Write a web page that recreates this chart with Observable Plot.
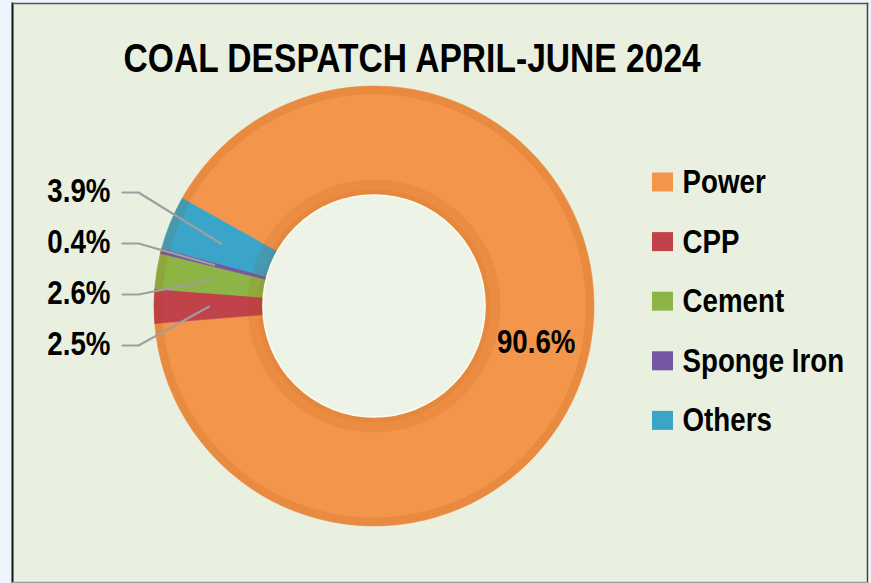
<!DOCTYPE html>
<html><head><meta charset="utf-8">
<script src="https://cdn.jsdelivr.net/npm/d3@7"></script>
<script src="https://cdn.jsdelivr.net/npm/@observablehq/plot@0.6"></script>
<style>
html,body{margin:0;padding:0;background:#edf4fc;}
#chart{width:871px;height:583px;}
</style></head><body><div id="chart"></div>
<script>
// ---- data ----
const title = "COAL DESPATCH APRIL-JUNE 2024";
const categories = ["Power", "CPP", "Cement", "Sponge Iron", "Others"];
const shares = [90.6, 2.5, 2.6, 0.4, 3.9];
const shareLabels = ["90.6%", "2.5%", "2.6%", "0.4%", "3.9%"];
const colors = ["#f3954a", "#c0434b", "#8db546", "#7557a4", "#3aa5c8"];

// ---- layout ----
const W = 871, H = 583, M = {l: 12, r: 4, t: 3, b: 1};
const CX = 374, CY = 306, R = 220;      // donut centre & outer radius (px)
const INNER = 0.505;                     // inner radius as fraction of outer
const START = -60.7 * Math.PI / 180;     // start angle of first slice
const FONT = "'Liberation Sans', Arial, sans-serif";
const NARROW = 0.84;                     // horizontal condensing of the bold text
const ux = px => (px - CX) / R, uy = py => (CY - py) / R, upx = d => d / R;

const data = categories.map((c, i) => ({category: c, value: shares[i], label: shareLabels[i]}));
const arcs = d3.pie().value(d => d.value).sort(null).startAngle(START).endAngle(START + 2 * Math.PI)(data);
const midA = a => (a.startAngle + a.endAngle) / 2;
const CR = (1 + INNER) / 2;
const polar = (ang, r) => [r * Math.sin(ang), r * Math.cos(ang)];

// main label (largest slice) at centroid
const bigLabels = arcs.filter(a => a.data.value > 50).map(a => {
  const [x, y] = polar(midA(a), CR);
  return {x, y, label: a.data.label};
});
// small slices: stacked labels on the left with leader lines
const small = arcs.filter(a => a.data.value <= 50);
const ANCHOR_X = ux(122), ELBOW = upx(16), GAP = upx(12);
const LBASE = upx(-38), LSTEP = upx(51);
const smallLabels = small.map((a, k) => ({x: ANCHOR_X - GAP, y: LBASE + k * LSTEP, label: a.data.label}));
const leaders = small.flatMap((a, k) => {
  const y0 = LBASE + k * LSTEP - upx(1);
  const [cx, cy] = polar(midA(a), CR);
  return [
    {k, x: ANCHOR_X, y: y0},
    {k, x: ANCHOR_X + ELBOW, y: y0},
    {k, x: cx, y: cy}
  ];
});

// legend
const LEG_X1 = ux(652), LEG_X2 = ux(673), LEG_TX = ux(682), LEG_Y0 = uy(182), LEG_STEP = upx(59.6), SW_H = upx(19);
const legend = categories.map((c, i) => ({category: c, y: LEG_Y0 - i * LEG_STEP}));

function donut(index, scales) {
  const {x, y, color} = scales;
  const cx = x(0), cy = y(0), r = x(1) - x(0);
  const g = d3.create("svg:g").attr("transform", `translate(${cx},${cy})`);
  const arc = d3.arc().innerRadius(r * INNER).outerRadius(r);
  g.selectAll("path.s").data(arcs).join("path")
    .attr("d", arc)
    .attr("fill", d => color(d.data.category))
    .attr("stroke", d => color(d.data.category))
    .attr("stroke-width", 0.6);
  // shading rings (3D effect)
  const ring = (r0, r1) => d3.arc().innerRadius(r0).outerRadius(r1).startAngle(0).endAngle(2 * Math.PI)();
  g.append("path").attr("d", ring(r * 0.962, r)).attr("fill", "#a04800").attr("fill-opacity", 0.13);
  g.append("path").attr("d", ring(r * INNER, r * 0.575)).attr("fill", "#a04800").attr("fill-opacity", 0.11);
  g.append("path").attr("d", ring(r * INNER, r * 0.53)).attr("fill", "#a04800").attr("fill-opacity", 0.06);
  g.append("circle").attr("r", r * INNER).attr("fill", "#edf3e6").attr("stroke", "#fbfbf2").attr("stroke-width", 1.5);
  return g.node();
}

const textStyle = {fontWeight: "bold", fontFamily: FONT, fill: "#000", className: "narrow"};

const chart = Plot.plot({
  width: W, height: H,
  marginLeft: M.l, marginRight: M.r, marginTop: M.t, marginBottom: M.b,
  style: {background: "transparent", overflow: "visible"},
  x: {domain: [ux(M.l), ux(W - M.r)], axis: null},
  y: {domain: [uy(H - M.b), uy(M.t)], axis: null},
  color: {domain: categories, range: colors},
  marks: [
    Plot.frame({fill: "#e9f0e0", stroke: "none"}),
    Plot.frame({anchor: "left", stroke: "#111", strokeWidth: 2}),
    Plot.frame({anchor: "top", stroke: "#555", strokeWidth: 1.5}),
    Plot.frame({anchor: "right", stroke: "#444", strokeWidth: 1.5}),
    Plot.frame({anchor: "bottom", stroke: "#9a9a9a", strokeWidth: 1.5}),
    donut,
    Plot.line(leaders, {x: "x", y: "y", z: "k", stroke: "#9f9f9f", strokeWidth: 2.2}),
    Plot.text(smallLabels, {x: "x", y: "y", text: "label", textAnchor: "end", fontSize: 33, ...textStyle}),
    Plot.text(bigLabels, {x: "x", y: "y", text: "label", fontSize: 33, ...textStyle}),
    Plot.text([title], {x: ux(123), y: uy(58.5), text: d => d, textAnchor: "start", fontSize: 40, ...textStyle}),
    Plot.rect(legend, {x1: LEG_X1, x2: LEG_X2, y1: d => d.y - SW_H / 2, y2: d => d.y + SW_H / 2, fill: "category"}),
    Plot.text(legend, {x: LEG_TX, y: "y", text: "category", textAnchor: "start", fontSize: 33, ...textStyle})
  ]
});
// condense the bold text horizontally (the original uses a condensed face)
chart.querySelectorAll("g.narrow text").forEach(t => {
  const tr = t.getAttribute("transform");
  if (tr) t.setAttribute("transform", `${tr} scale(${NARROW},1)`);
  else {
    const x = +t.getAttribute("x") || 0, y = +t.getAttribute("y") || 0;
    t.setAttribute("transform", `translate(${x},${y}) scale(${NARROW},1) translate(${-x},${-y})`);
  }
});
document.getElementById("chart").append(chart);
</script></body></html>
